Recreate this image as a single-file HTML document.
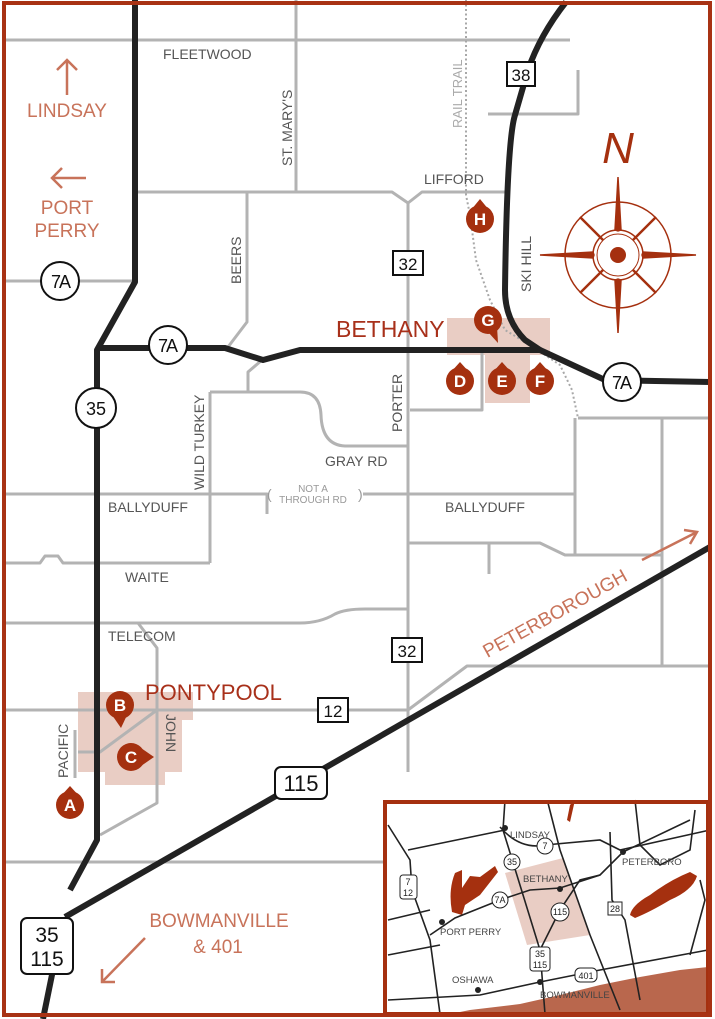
<!DOCTYPE html>
<html><head><meta charset="utf-8"><style>
html,body{margin:0;padding:0;background:#fff;}
svg{display:block;}
text{font-family:"Liberation Sans",sans-serif;}
</style></head><body>
<svg width="715" height="1019" viewBox="0 0 715 1019" xmlns="http://www.w3.org/2000/svg">
<rect width="715" height="1019" fill="#fff"/>
<!-- pink zones -->
<polygon points="78,692 193,692 193,720 182,720 182,772 165,772 165,785 105,785 105,772 78,772" fill="#e9cdc4"/>
<polygon points="447,318 550,318 550,355 530,355 530,403 485,403 485,355 447,355" fill="#e9cdc4"/>
<!-- gray roads -->
<g fill="none" stroke="#b3b3b3" stroke-width="3" stroke-linejoin="round">
<line x1="6" y1="40" x2="570" y2="40"/>
<line x1="296" y1="0" x2="296" y2="192"/>
<polyline points="135,192 392,192 408,203 422,192 505,192"/>
<line x1="408" y1="203" x2="408" y2="772"/>
<polyline points="578,70 578,114 488,114"/>
<polyline points="247,192 247,322 228,347"/>
<polyline points="262,360 248,372 248,392"/>
<path d="M210,392 H300 Q320,392 321,415 Q322,445 345,446 H408"/>
<line x1="210" y1="392" x2="210" y2="563"/>
<polyline points="6,494 267,494 267,514"/>
<line x1="363" y1="494" x2="575" y2="494"/>
<line x1="575" y1="418" x2="575" y2="555"/>
<line x1="578" y1="418" x2="710" y2="418"/>
<line x1="662" y1="418" x2="662" y2="665"/>
<polyline points="408,543 540,543 565,555 662,555"/>
<line x1="489" y1="543" x2="489" y2="574"/>
<polyline points="408,710 467,666 710,666"/>
<polyline points="6,563 40,563 45,556 58,556 63,563 210,563"/>
<path d="M6,623 H300 Q320,623 335,614 Q345,609 365,609 H408"/>
<polyline points="138,623 157,648 157,803 100,835"/>
<line x1="6" y1="710" x2="408" y2="710"/>
<polyline points="157,710 100,752 78,752"/>
<line x1="75" y1="730" x2="75" y2="778"/>
<line x1="6" y1="862" x2="383" y2="862"/>
<line x1="6" y1="281" x2="135" y2="281"/>
<polyline points="482,352 482,410 410,410"/>
<line x1="408" y1="345" x2="408" y2="410"/>
</g>
<!-- rail trail -->
<path d="M466,0 L466,195 L470,215 L476,260 L490,300 L505,330 L530,345 L560,365 L572,390 L578,418" fill="none" stroke="#a8a8a8" stroke-width="2" stroke-dasharray="2,2.5"/>
<!-- black highways -->
<g fill="none" stroke="#222" stroke-width="6" stroke-linejoin="round">
<polyline points="135,0 135,282 97,350 97,840 70,890"/>
<line x1="55" y1="960" x2="43" y2="1019"/>
<polyline points="97,348 225,348 263,360 300,350 540,350 605,380 710,382"/>
<path d="M566,2 Q540,35 528,70 L515,115 Q507,140 505,290 Q505,320 525,340 L540,350"/>
<line x1="65" y1="917" x2="710" y2="547"/>
</g>
<!-- shields -->
<g font-size="18" text-anchor="middle" fill="#111">
<circle cx="60" cy="281" r="19" fill="#fff" stroke="#111" stroke-width="2"/><text x="60" y="288" letter-spacing="-2">7A</text>
<circle cx="168" cy="345" r="19" fill="#fff" stroke="#111" stroke-width="2"/><text x="167" y="352" letter-spacing="-2">7A</text>
<circle cx="96" cy="408" r="20" fill="#fff" stroke="#111" stroke-width="2"/><text x="96" y="415">35</text>
<circle cx="622" cy="382" r="19" fill="#fff" stroke="#111" stroke-width="2"/><text x="621" y="389" letter-spacing="-2">7A</text>
<rect x="507" y="62" width="28" height="24" fill="#fff" stroke="#111" stroke-width="2"/><text x="521" y="81" font-size="17">38</text>
<rect x="393" y="251" width="30" height="24" fill="#fff" stroke="#111" stroke-width="2"/><text x="408" y="270" font-size="17">32</text>
<rect x="392" y="638" width="30" height="24" fill="#fff" stroke="#111" stroke-width="2"/><text x="407" y="657" font-size="17">32</text>
<rect x="318" y="698" width="30" height="24" fill="#fff" stroke="#111" stroke-width="2"/><text x="333" y="717" font-size="17">12</text>
<rect x="275" y="767" width="52" height="32" rx="6" fill="#fff" stroke="#111" stroke-width="2"/><text x="301" y="791" font-size="22">115</text>
<rect x="21" y="918" width="52" height="56" rx="6" fill="#fff" stroke="#111" stroke-width="2"/><text x="47" y="942" font-size="21">35</text><text x="47" y="966" font-size="21">115</text>
</g>
<!-- gray labels -->
<g fill="#555" font-size="14">
<text x="163" y="59">FLEETWOOD</text>
<text transform="translate(292,166) rotate(-90)">ST. MARY'S</text>
<text transform="translate(241,284) rotate(-90)">BEERS</text>
<text transform="translate(204,490) rotate(-90)">WILD TURKEY</text>
<text transform="translate(402,432) rotate(-90)">PORTER</text>
<text x="108" y="512">BALLYDUFF</text>
<text x="445" y="512">BALLYDUFF</text>
<text x="125" y="582">WAITE</text>
<text x="108" y="641">TELECOM</text>
<text x="325" y="466">GRAY RD</text>
<text x="424" y="184">LIFFORD</text>
<text transform="translate(531,292) rotate(-90)">SKI HILL</text>
<text transform="translate(166,714) rotate(90)">JOHN</text>
<text transform="translate(68,778) rotate(-90)">PACIFIC</text>
<text transform="translate(462,128) rotate(-90)" fill="#aaa" font-size="13">RAIL TRAIL</text>
<text x="267" y="499" fill="#999" font-size="14">(</text>
<text x="358" y="499" fill="#999" font-size="14">)</text>
<text x="313" y="492" fill="#999" font-size="10" text-anchor="middle">NOT A</text>
<text x="313" y="503" fill="#999" font-size="10" text-anchor="middle">THROUGH RD</text>
</g>
<!-- orange labels -->
<g fill="#c8735a" font-size="19" text-anchor="middle">
<text x="67" y="117">LINDSAY</text>
<text x="67" y="214">PORT</text>
<text x="67" y="237">PERRY</text>
<text x="219" y="927">BOWMANVILLE</text>
<text x="218" y="953">&amp; 401</text>
<text transform="translate(558,619) rotate(-29)">PETERBOROUGH</text>
</g>
<g stroke="#c8735a" stroke-width="2.5" fill="none">
<path d="M67,95 V60 M57,70 L67,60 L77,70"/>
<path d="M86,178 H52 M62,168 L52,178 L62,188"/>
<path d="M642,560 L697,532 M684,530 L697,532 L690,544"/>
<path d="M145,938 L102,982 M102,969 L102,982 L115,982"/>
</g>
<text x="145" y="700" fill="#a8301a" font-size="22" font-family="Liberation Sans">PONTYPOOL</text>
<text x="336" y="337" fill="#a8301a" font-size="23" font-family="Liberation Sans">BETHANY</text>
<!-- markers -->
<g fill="#a5300f">
<circle cx="70" cy="805" r="14"/><path d="M60,797 L70,786 L80,797Z"/>
<circle cx="120" cy="705" r="14"/><path d="M112,715 L121,728 L128,713Z"/>
<circle cx="131" cy="757" r="14"/><path d="M141,748 L154,757 L141,766Z"/>
<circle cx="460" cy="381" r="14"/><path d="M451,372 L460,362 L469,372Z"/>
<circle cx="502" cy="381" r="14"/><path d="M493,372 L502,362 L511,372Z"/>
<circle cx="540" cy="381" r="14"/><path d="M531,372 L540,362 L549,372Z"/>
<circle cx="488" cy="320" r="14"/><path d="M488,332 L498,343 L497,326Z"/>
<circle cx="480" cy="219" r="14"/><path d="M471,210 L480,199 L489,210Z"/>
</g>
<g fill="#fff" font-size="17" font-weight="bold" text-anchor="middle">
<text x="70" y="811">A</text><text x="120" y="711">B</text><text x="131" y="763">C</text>
<text x="460" y="387">D</text><text x="502" y="387">E</text><text x="540" y="387">F</text>
<text x="488" y="326">G</text><text x="480" y="225">H</text>
</g>
<!-- compass -->
<g stroke="#a5300f" fill="none" stroke-width="1.5">
<circle cx="618" cy="255" r="53"/>
<circle cx="618" cy="255" r="25"/><circle cx="618" cy="255" r="21" stroke-width="1"/>
<path d="M618,177 L621,230 L618,231 L615,230Z M618,333 L621,280 L618,279 L615,280Z M540,255 L593,252 L594,255 L593,258Z M696,255 L643,252 L642,255 L643,258Z" fill="#a5300f"/>
<path d="M580,217 L603,240 M656,217 L633,240 M580,293 L603,270 M656,293 L633,270" stroke-width="2.5"/>
</g>
<circle cx="618" cy="255" r="8" fill="#a5300f"/>
<text x="618" y="163" fill="#a5300f" font-size="44" font-style="italic" font-family="Liberation Serif" text-anchor="middle">N</text>
<!-- inset -->
<rect x="385" y="802" width="323" height="212" fill="#fff"/>
<polygon points="505,873 563,858 590,935 527,945" fill="#e9cdc4"/>
<path d="M440,1016 L470,1010 L520,1004 L560,995 L600,985 L640,977 L680,970 L708,967 V1016Z" fill="#b9674d"/>
<path d="M452,912 Q448,890 455,873 L462,870 L462,888 L470,876 L480,877 L495,866 L498,872 L480,895 L465,905 L462,915Z" fill="#a5300f"/>
<path d="M630,915 Q632,905 650,895 Q670,880 690,872 L697,876 Q693,890 670,900 Q650,912 635,918Z" fill="#a5300f"/>
<path d="M570,805 L575,800 L570,822 L567,820Z" fill="#a5300f"/>
<g fill="none" stroke="#222" stroke-width="1.6">
<path d="M505,800 L503,830 L540,950 L545,1014"/>
<path d="M548,803 L560,850 L590,935 L620,1010"/>
<path d="M388,825 L410,860 L412,890 L430,940 L440,1014"/>
<path d="M408,850 L505,830"/>
<path d="M500,827 Q520,850 545,845 L600,840 L620,850 L710,830"/>
<path d="M430,935 L455,918 L500,900 L530,890 L560,888 L600,875 L623,852 L690,820"/>
<path d="M540,950 L560,910 L580,880 L600,875"/>
<path d="M610,832 L612,900 L625,920 L640,1000"/>
<path d="M388,1000 L480,995 L540,982 L600,970 L708,950"/>
<path d="M388,955 L440,945"/>
<path d="M388,920 L430,910"/>
<path d="M695,810 L690,850 L660,865 L640,845 L635,800"/>
<path d="M700,880 L705,900 L690,955"/>
</g>
<g fill="#222"><circle cx="505" cy="828" r="3"/><circle cx="560" cy="889" r="3"/><circle cx="623" cy="852" r="3"/><circle cx="442" cy="922" r="3"/><circle cx="478" cy="990" r="3"/><circle cx="540" cy="982" r="3"/></g>
<g font-size="9" text-anchor="middle" fill="#222">
<circle cx="545" cy="846" r="8" fill="#fff" stroke="#222"/><text x="545" y="849">7</text>
<circle cx="512" cy="862" r="8" fill="#fff" stroke="#222"/><text x="512" y="865">35</text>
<circle cx="500" cy="900" r="8" fill="#fff" stroke="#222"/><text x="500" y="903">7A</text>
<circle cx="560" cy="912" r="9" fill="#fff" stroke="#222"/><text x="560" y="915">115</text>
<rect x="530" y="947" width="20" height="24" rx="3" fill="#fff" stroke="#222"/><text x="540" y="957">35</text><text x="540" y="968">115</text>
<rect x="575" y="968" width="22" height="14" rx="5" fill="#fff" stroke="#222"/><text x="586" y="979">401</text>
<rect x="608" y="902" width="14" height="13" fill="#fff" stroke="#222"/><text x="615" y="912">28</text>
<rect x="400" y="875" width="17" height="24" rx="3" fill="#fff" stroke="#222"/><text x="408" y="885">7</text><text x="408" y="896">12</text>
</g>
<g font-size="9.5" fill="#444">
<text x="510" y="838">LINDSAY</text>
<text x="523" y="882">BETHANY</text>
<text x="622" y="865">PETERBORO</text>
<text x="440" y="935">PORT PERRY</text>
<text x="452" y="983">OSHAWA</text>
<text x="540" y="998">BOWMANVILLE</text>
</g>
<rect x="385" y="802" width="323" height="212" fill="none" stroke="#a5300f" stroke-width="4"/>
<!-- border -->
<rect x="4" y="3" width="706" height="1012" fill="none" stroke="#a83214" stroke-width="4"/>
</svg>
</body></html>
